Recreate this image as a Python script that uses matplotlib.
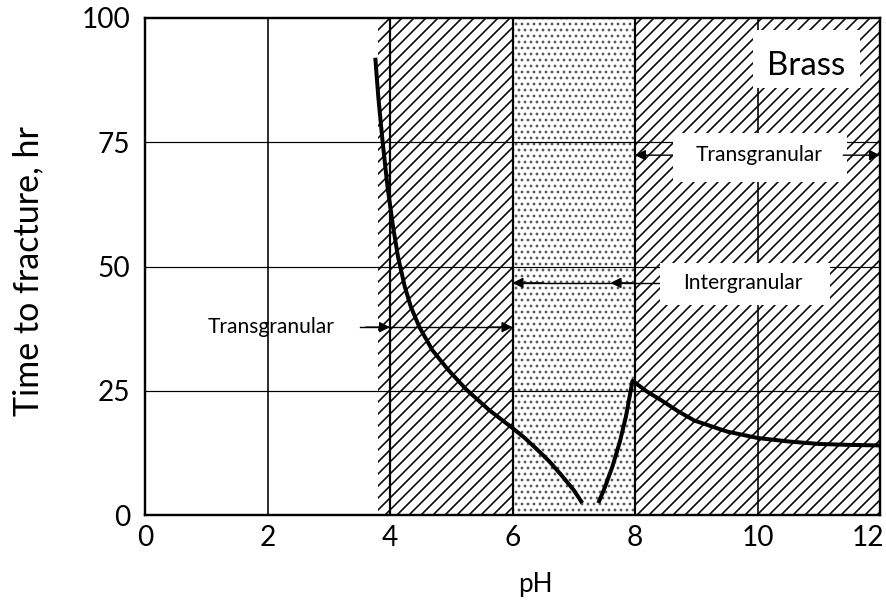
import matplotlib
matplotlib.use("Agg")
import matplotlib.pyplot as plt
from matplotlib.transforms import ScaledTranslation

# pH ranges of the cracking modes
trans_low = (3.8, 6.0)
inter_range = (6.0, 8.0)
trans_high = (8.0, 12.0)

# time-to-fracture curve (pH, hours), two branches
ph_left = [3.76, 3.81, 3.88, 3.96, 4.05, 4.13, 4.24, 4.34, 4.48, 4.69, 4.95,
           5.25, 5.62, 6.00, 6.20, 6.40, 6.60, 6.80, 7.00, 7.14]
hr_left = [92.0, 84.0, 75.0, 66.0, 58.0, 52.0, 46.0, 41.9, 37.8, 33.2, 29.2,
           25.2, 21.1, 17.5, 15.5, 13.2, 10.8, 8.0, 5.0, 2.4]
ph_right = [7.40, 7.50, 7.63, 7.75, 7.85, 7.96, 8.20, 8.44, 8.70, 8.97, 9.50,
            10.0, 10.5, 11.0, 11.5, 12.0]
hr_right = [2.4, 5.3, 9.7, 14.6, 19.7, 27.0, 24.8, 23.0, 20.9, 19.0, 16.8,
            15.5, 14.8, 14.3, 14.1, 14.0]

xticks = [0, 2, 4, 6, 8, 10, 12]
yticks = [0, 25, 50, 75, 100]

plt.rcParams["hatch.linewidth"] = 1.6
plt.rcParams["font.family"] = ["Lato", "DejaVu Sans"]

DPI = 72
fig = plt.figure(figsize=(886 / DPI, 600 / DPI), dpi=DPI)
ax = fig.add_axes([145 / 886, 85 / 600, 735 / 886, 497 / 600])
ax.set_xlim(0, 12)
ax.set_ylim(0, 100)

# shaded regions
ax.axvspan(*trans_low, facecolor="white", hatch="//", edgecolor="black",
           linewidth=0, zorder=0)
ax.axvspan(*trans_high, facecolor="white", hatch="//", edgecolor="black",
           linewidth=0, zorder=0)
ax.axvspan(*inter_range, facecolor="white", hatch="..", edgecolor="0.35",
           linewidth=0, zorder=0)

# grid
for x in [2, 10]:
    ax.axvline(x, color="black", lw=1.6, zorder=1)
for x in [4, 6, 8]:
    ax.axvline(x, color="black", lw=2.2, zorder=1)
for y in [25, 50, 75]:
    ax.axhline(y, color="black", lw=1.2, zorder=1)

# curve
ax.plot(ph_left, hr_left, color="black", lw=4, solid_capstyle="butt",
        solid_joinstyle="round", zorder=5)
ax.plot(ph_right, hr_right, color="black", lw=4, solid_capstyle="butt",
        solid_joinstyle="round", zorder=5)

txt_kw = dict(fontsize=21, color="black", ha="center", va="center", zorder=4)
head = dict(arrowstyle="-|>", color="black", lw=1.4, mutation_scale=22,
            shrinkA=0, shrinkB=0)


def arrow(tip, tail, y):
    ax.annotate("", xy=(tip, y), xytext=(tail, y), arrowprops=head, zorder=4)


# "Brass" label
ax.add_patch(plt.Rectangle((9.93, 85.9), 1.74, 11.7, facecolor="white",
                           edgecolor="none", zorder=3))
ax.text(10.8, 90.4, "Brass", fontsize=33, ha="center", va="center", zorder=4)

# upper transgranular range
arrow(8.0, 8.6, 72.4)
arrow(12.0, 11.4, 72.4)
ax.add_patch(plt.Rectangle((8.62, 67.0), 2.84, 9.9, facecolor="white",
                           edgecolor="none", zorder=3))
ax.text(10.02, 72.4, "Transgranular", **txt_kw)

# intergranular range
ax.plot([6.0, 8.41], [46.7, 46.7], color="black", lw=1.4, zorder=3)
arrow(6.0, 6.5, 46.7)
arrow(7.6, 7.95, 46.7)
ax.add_patch(plt.Rectangle((8.41, 42.3), 2.77, 8.4, facecolor="white",
                           edgecolor="none", zorder=3))
ax.text(9.76, 46.7, "Intergranular", **txt_kw)

# lower transgranular range
ax.text(2.06, 37.8, "Transgranular", **txt_kw)
ax.plot([3.51, 6.0], [37.8, 37.8], color="black", lw=1.4, zorder=3)
arrow(4.0, 3.6, 37.8)
arrow(6.0, 5.6, 37.8)

# axes styling
for sp in ax.spines.values():
    sp.set_linewidth(2.4)
    sp.set_zorder(6)
ax.set_xticks(xticks)
ax.set_yticks(yticks)
ax.set_xticklabels([str(v) for v in xticks])
ax.set_yticklabels([str(v) for v in yticks])
ax.tick_params(length=0, labelsize=28, pad=10)
ax.tick_params(axis="y", pad=15)
last = ax.get_xticklabels()[-1]
last.set_transform(last.get_transform()
                   + ScaledTranslation(-12 / 72, 0, fig.dpi_scale_trans))

ax.set_xlabel("pH", fontsize=26)
ax.xaxis.set_label_coords((535 - 145) / 735, -(572 - 515) / 497)
ax.set_ylabel("Time to fracture, hr", fontsize=34)
ax.yaxis.set_label_coords(-(145 - 44) / 735, 0.49)

fig.savefig("out.png", dpi=DPI, facecolor="white")
